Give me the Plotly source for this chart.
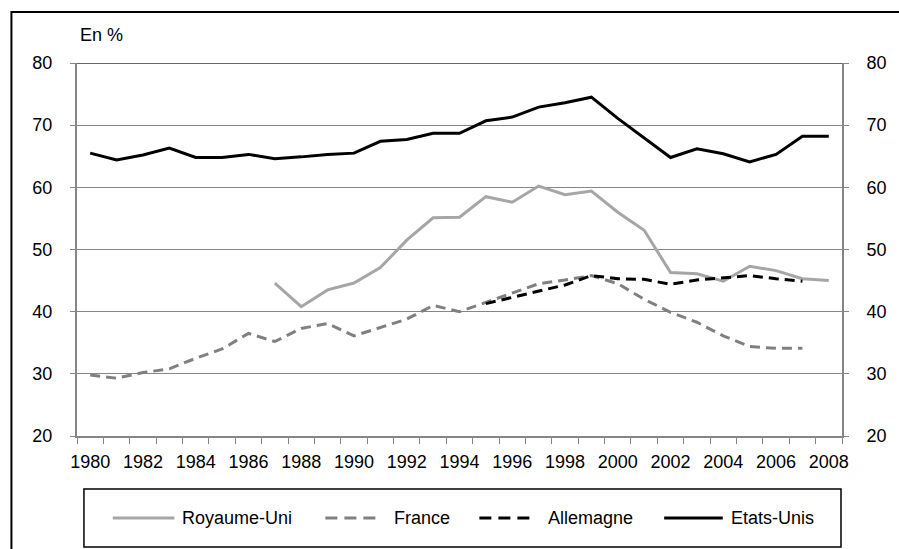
import plotly.graph_objects as go

years = list(range(1980, 2009))

royaume_uni = [None]*7 + [44.6, 40.8, 43.5, 44.6, 47.1, 51.5, 55.1, 55.2, 58.5, 57.6, 60.2,
                          58.8, 59.4, 56.0, 53.1, 46.3, 46.1, 44.9, 47.3, 46.6, 45.3, 45.0]
france = [29.8, 29.3, 30.2, 30.8, 32.5, 34.0, 36.5, 35.2, 37.3, 38.1, 36.1, 37.4, 38.8, 41.0,
          40.0, 41.5, 43.0, 44.5, 45.1, 45.8, 44.5, 42.0, 39.9, 38.3, 36.1, 34.4, 34.1, 34.1, None]
allemagne = [None]*15 + [41.3, 42.3, 43.4, 44.3, 45.8, 45.3, 45.2, 44.4, 45.1, 45.5, 45.8,
                         45.3, 44.9, None]
etats_unis = [65.5, 64.4, 65.2, 66.3, 64.8, 64.8, 65.3, 64.6, 64.9, 65.3, 65.5, 67.4, 67.7,
              68.7, 68.7, 70.7, 71.3, 72.9, 73.6, 74.5, 71.1, 68.0, 64.8, 66.2, 65.4, 64.1,
              65.3, 68.2, 68.2]

series_names = ["Royaume-Uni", "France", "Allemagne", "Etats-Unis"]
series_colors = ["#A6A6A6", "#808080", "#000000", "#000000"]
series_dash = ["solid", "10px,6px", "10px,6px", "solid"]
y_ticks = [20, 30, 40, 50, 60, 70, 80]
x_labels = list(range(1980, 2009, 2))

W, H = 899, 549
L, R, T, B = 77, 847, 63, 436
FONT = "Arial, Liberation Sans, sans-serif"
FS = 18


def px(x):
    return (x - L) / (R - L)


def py(y):
    return (B - y) / (B - T)


fig = go.Figure()
for name, vals, col, dash in zip(series_names, [royaume_uni, france, allemagne, etats_unis],
                                 series_colors, series_dash):
    fig.add_trace(go.Scatter(x=years, y=vals, mode="lines", name=name,
                             line=dict(color=col, width=3, dash=dash),
                             connectgaps=False, showlegend=False))

# invisible trace to anchor the right axis
fig.add_trace(go.Scatter(x=years, y=etats_unis, yaxis="y2", mode="lines",
                         line=dict(width=0), opacity=0, showlegend=False, hoverinfo="skip"))

axis_gray = "#868686"
fig.update_layout(
    width=W, height=H,
    margin=dict(l=L, r=W - R, t=T, b=H - B, pad=0),
    paper_bgcolor="white", plot_bgcolor="white",
    font=dict(family=FONT, size=FS, color="black"),
    xaxis=dict(range=[1979.5, 2008.5], tickvals=x_labels, ticktext=[str(v) for v in x_labels],
               ticks="", showgrid=False, zeroline=False,
               showline=True, linecolor=axis_gray, linewidth=2,
               minor=dict(tick0=1979.5, dtick=1, ticks="outside", ticklen=6,
                          tickcolor=axis_gray, tickwidth=1, showgrid=False),
               tickfont=dict(size=FS), ticklabelstandoff=8),
    yaxis=dict(range=[20, 80], tickvals=y_ticks, ticks="outside", ticklen=5,
               tickcolor=axis_gray, showgrid=True, gridcolor=axis_gray, gridwidth=1,
               zeroline=False, showline=True, linecolor=axis_gray, linewidth=2,
               tickfont=dict(size=FS), ticklabelstandoff=14),
    yaxis2=dict(range=[20, 80], tickvals=y_ticks, overlaying="y", side="right",
                ticks="outside", ticklen=5, tickcolor=axis_gray, showgrid=False,
                zeroline=False, showline=True, linecolor=axis_gray, linewidth=2,
                tickfont=dict(size=FS), ticklabelstandoff=14),
)

shapes = []
shapes.append(dict(type="line", xref="paper", yref="y", x0=0, x1=1, y0=80, y1=80,
                   line=dict(color="#333333", width=1.5), layer="above"))
shapes.append(dict(type="rect", xref="paper", yref="paper",
                   x0=px(11), x1=px(W + 20), y0=py(H + 20), y1=py(12),
                   line=dict(color="black", width=2), layer="below"))
shapes.append(dict(type="rect", xref="paper", yref="paper",
                   x0=px(84), x1=px(846), y0=py(547), y1=py(489),
                   line=dict(color="black", width=1.5)))

legend_line_x = [(113, 175), (327, 378), (482, 536), (668, 727)]
legend_text_x = [181, 394, 549, 733]
ly = 518
annotations = []
for name, col, dash, (a, b), tx in zip(series_names, series_colors, series_dash,
                                       legend_line_x, legend_text_x):
    shapes.append(dict(type="line", xref="paper", yref="paper", x0=px(a), x1=px(b),
                       y0=py(ly), y1=py(ly),
                       line=dict(color=col, width=3,
                                 dash="solid" if dash == "solid" else "12px,7px")))
    annotations.append(dict(x=px(tx), y=py(ly), xref="paper", yref="paper", text=name,
                            showarrow=False, xanchor="left", yanchor="middle",
                            font=dict(size=FS, color="black")))

annotations.append(dict(x=px(78), y=py(35), xref="paper", yref="paper", text="En %",
                        showarrow=False, xanchor="left", yanchor="middle",
                        font=dict(size=FS, color="black")))

fig.update_layout(shapes=shapes, annotations=annotations)
fig.write_html("out.html", config={"displayModeBar": False},
               post_script="document.body.style.margin='0';document.body.style.padding='0';")
